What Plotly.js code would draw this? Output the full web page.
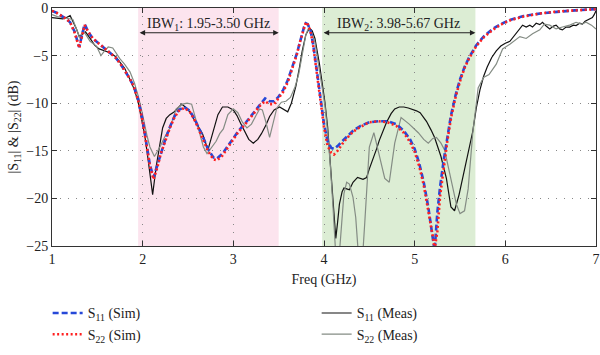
<!DOCTYPE html>
<html>
<head>
<meta charset="utf-8">
<script src="https://cdn.plot.ly/plotly-3.0.1.min.js"></script>
<style>html,body{margin:0;padding:0;background:#fff;}#chart{width:600px;height:355px;}</style>
</head>
<body>
<div id="chart"></div>
<script>
// Simulated S11 / S22 (shared frequency grid, GHz)
const simFreq = [1.00,1.05,1.10,1.15,1.20,1.25,1.30,1.33,1.36,1.40,1.45,1.50,1.55,1.60,1.65,1.70,1.75,1.80,1.85,1.90,1.95,2.00,2.04,2.08,2.12,2.16,2.20,2.25,2.30,2.35,2.40,2.46,2.52,2.58,2.65,2.72,2.78,2.82,2.88,2.96,3.05,3.14,3.22,3.30,3.35,3.40,3.45,3.50,3.55,3.60,3.66,3.70,3.74,3.78,3.80,3.82,3.85,3.88,3.92,3.96,4.00,4.04,4.08,4.11,4.15,4.20,4.25,4.32,4.40,4.50,4.60,4.70,4.80,4.88,4.95,5.00,5.05,5.10,5.15,5.20,5.22,5.25,5.28,5.32,5.36,5.40,5.45,5.50,5.55,5.60,5.68,5.76,5.86,5.95,6.05,6.20,6.40,6.60,6.80,7.00];
const s11Sim = [-0.3,-0.5,-0.8,-1.1,-1.5,-2.5,-4.1,-2.8,-1.7,-2.5,-3.2,-3.6,-4.0,-4.3,-4.7,-5.2,-5.8,-6.5,-7.3,-8.2,-9.6,-11.8,-14.2,-16.5,-17.8,-16.6,-15.2,-13.8,-12.5,-11.4,-10.7,-10.4,-10.8,-11.8,-13.2,-14.8,-15.7,-15.8,-15.3,-14.2,-13.0,-12.0,-11.0,-10.0,-9.5,-9.8,-9.8,-9.3,-8.6,-7.6,-6.0,-4.8,-3.4,-2.0,-1.6,-1.7,-2.3,-3.8,-6.5,-9.5,-12.2,-14.0,-14.7,-14.8,-14.5,-14.0,-13.5,-12.9,-12.4,-12.0,-11.9,-11.9,-12.2,-12.9,-13.8,-14.8,-16.3,-18.3,-20.9,-24.0,-25.5,-21.5,-18.8,-16.0,-13.6,-11.3,-9.2,-7.5,-6.2,-5.2,-3.9,-3.0,-2.2,-1.7,-1.25,-0.85,-0.55,-0.35,-0.22,-0.12];
const s22Sim = [-0.3,-0.5,-0.8,-1.1,-1.5,-2.6,-4.2,-2.9,-1.8,-2.5,-3.2,-3.6,-4.0,-4.3,-4.7,-5.2,-5.8,-6.5,-7.3,-8.2,-9.7,-11.9,-14.3,-16.6,-18.0,-16.8,-15.3,-13.9,-12.6,-11.5,-10.8,-10.5,-10.9,-11.9,-13.4,-15.0,-15.9,-16.0,-15.5,-14.4,-13.1,-12.1,-11.1,-10.2,-9.8,-10.1,-10.1,-9.5,-8.8,-7.8,-6.1,-4.9,-3.4,-2.0,-1.5,-1.7,-2.4,-3.9,-6.6,-9.7,-12.5,-14.5,-15.2,-15.4,-15.0,-14.3,-13.7,-13.0,-12.5,-12.0,-11.9,-12.0,-12.4,-13.1,-14.1,-15.1,-16.6,-18.6,-21.1,-24.0,-25.3,-23.5,-19.8,-16.6,-14.0,-11.6,-9.4,-7.7,-6.3,-5.3,-4.0,-3.1,-2.3,-1.75,-1.3,-0.9,-0.55,-0.35,-0.22,-0.12];

// Measured S11
const s11MeasFreq = [1.00,1.06,1.12,1.16,1.20,1.24,1.27,1.30,1.33,1.37,1.42,1.47,1.52,1.58,1.64,1.70,1.75,1.80,1.86,1.91,1.95,1.99,2.02,2.05,2.08,2.11,2.15,2.19,2.22,2.26,2.30,2.35,2.40,2.43,2.47,2.52,2.56,2.60,2.66,2.72,2.75,2.78,2.83,2.88,2.94,3.00,3.04,3.08,3.12,3.17,3.22,3.27,3.31,3.36,3.40,3.45,3.51,3.56,3.60,3.64,3.69,3.73,3.76,3.80,3.84,3.87,3.90,3.95,3.98,4.01,4.04,4.06,4.08,4.10,4.13,4.15,4.17,4.20,4.22,4.25,4.28,4.32,4.37,4.43,4.47,4.50,4.54,4.58,4.61,4.65,4.69,4.74,4.78,4.83,4.88,4.93,4.97,5.02,5.06,5.13,5.18,5.22,5.29,5.35,5.40,5.44,5.49,5.53,5.57,5.61,5.64,5.68,5.72,5.76,5.80,5.85,5.90,5.95,6.00,6.05,6.10,6.15,6.19,6.23,6.27,6.30,6.34,6.38,6.41,6.45,6.49,6.53,6.56,6.60,6.63,6.67,6.71,6.75,6.78,6.82,6.85,6.88,6.92,6.96,6.98,7.00];
const s11Meas = [-1.0,-1.1,-1.15,-1.0,-0.8,-1.6,-2.2,-3.0,-2.8,-2.5,-3.2,-3.9,-4.3,-4.5,-4.7,-5.1,-5.7,-6.3,-7.5,-8.6,-9.9,-11.6,-13.2,-15.2,-17.3,-19.6,-16.6,-14.3,-12.6,-11.6,-11.2,-10.9,-10.4,-10.1,-10.4,-10.9,-11.6,-12.3,-13.2,-14.9,-13.9,-12.9,-11.2,-10.4,-10.4,-10.7,-11.3,-12.1,-12.9,-13.8,-14.2,-13.8,-13.2,-12.3,-11.4,-10.7,-10.4,-10.7,-10.9,-10.0,-8.2,-6.2,-4.5,-2.8,-2.1,-2.4,-3.2,-5.9,-7.8,-9.9,-12.5,-14.9,-17.5,-19.9,-24.2,-22.5,-20.6,-19.3,-18.9,-19.0,-19.1,-18.3,-17.8,-18.0,-17.8,-16.9,-15.9,-14.8,-13.9,-12.9,-12.0,-11.1,-10.6,-10.4,-10.4,-10.5,-10.6,-10.8,-11.0,-11.9,-12.8,-13.6,-15.6,-17.9,-20.9,-21.3,-19.6,-17.9,-16.3,-14.5,-13.0,-10.5,-8.6,-7.2,-6.2,-5.2,-4.5,-4.0,-3.7,-3.5,-2.9,-2.3,-1.8,-2.0,-1.8,-2.0,-1.6,-1.75,-1.5,-1.9,-2.2,-1.9,-1.8,-2.2,-2.3,-2.0,-2.0,-1.8,-1.85,-1.6,-1.7,-1.4,-1.2,-1.0,-0.7,-0.3];

// Measured S22
const s22MeasFreq = [1.00,1.06,1.12,1.18,1.23,1.27,1.31,1.34,1.38,1.42,1.49,1.54,1.58,1.62,1.67,1.71,1.75,1.80,1.86,1.91,1.95,1.99,2.02,2.05,2.08,2.13,2.19,2.24,2.30,2.34,2.37,2.44,2.49,2.54,2.58,2.63,2.67,2.71,2.76,2.81,2.85,2.89,2.94,3.00,3.05,3.10,3.15,3.20,3.25,3.29,3.32,3.36,3.40,3.44,3.48,3.53,3.58,3.63,3.68,3.72,3.76,3.80,3.83,3.86,3.90,3.95,4.01,4.04,4.07,4.10,4.13,4.16,4.19,4.22,4.25,4.28,4.32,4.35,4.38,4.42,4.45,4.47,4.50,4.55,4.61,4.67,4.72,4.75,4.78,4.85,4.94,5.04,5.10,5.15,5.20,5.24,5.29,5.33,5.40,5.46,5.50,5.55,5.59,5.64,5.68,5.70,5.76,5.82,5.90,5.97,6.05,6.12,6.16,6.23,6.30,6.38,6.43,6.49,6.56,6.63,6.71,6.78,6.84,6.89,6.95,7.00];
const s22Meas = [-0.7,-0.9,-1.0,-1.1,-1.2,-2.2,-3.2,-2.3,-2.9,-3.5,-4.0,-5.0,-4.5,-4.1,-4.2,-4.8,-5.35,-5.9,-6.7,-7.9,-9.2,-10.8,-12.2,-13.5,-14.6,-15.6,-14.6,-13.6,-12.6,-11.5,-10.6,-10.1,-10.0,-10.1,-11.5,-13.2,-14.6,-15.3,-14.6,-14.0,-13.2,-12.7,-11.2,-10.6,-11.0,-12.0,-12.6,-12.2,-11.3,-10.6,-10.7,-12.0,-13.6,-12.0,-10.5,-9.9,-9.8,-9.4,-8.3,-7.0,-4.8,-2.8,-2.1,-2.5,-3.6,-6.5,-10.2,-13.0,-16.5,-21.0,-26.0,-27.0,-23.5,-19.5,-18.3,-18.5,-19.9,-22.0,-26.0,-27.0,-22.5,-19.3,-14.6,-13.1,-15.6,-17.9,-18.3,-16.0,-14.2,-11.5,-12.2,-13.1,-13.8,-14.2,-13.7,-13.6,-14.2,-14.9,-17.9,-20.6,-21.6,-21.3,-19.0,-13.2,-10.0,-8.4,-7.3,-7.0,-5.9,-4.3,-3.8,-3.3,-3.0,-3.2,-2.7,-2.3,-1.7,-1.8,-2.2,-2.0,-1.8,-1.5,-1.7,-1.5,-1.8,-2.2];

// Bands and labels
const ibw1 = [1.95, 3.50];
const ibw2 = [3.98, 5.67];
const ibw1Label = "IBW<sub>1</sub>: 1.95-3.50 GHz";
const ibw2Label = "IBW<sub>2</sub>: 3.98-5.67 GHz";
const arrowLevel = -2.6;
const labelLevel = -1.7;
const xTicks = [1,2,3,4,5,6,7];
const yTicks = [0,-5,-10,-15,-20,-25];

const FONT = "Liberation Serif, Times New Roman, serif";

const traces = [
  {x: s11MeasFreq, y: s11Meas, name: "S<sub>11</sub> (Meas)", mode: "lines", line: {color: "#111111", width: 1.2}, legendrank: 2},
  {x: s22MeasFreq, y: s22Meas, name: "S<sub>22</sub> (Meas)", mode: "lines", line: {color: "#848c84", width: 1.2}, legendrank: 4},
  {x: simFreq, y: s11Sim, name: "S<sub>11</sub> (Sim)", mode: "lines", line: {color: "#2648d8", width: 2.6, dash: "6px,3px"}, legendrank: 1},
  {x: simFreq, y: s22Sim, name: "S<sub>22</sub> (Sim)", mode: "lines", line: {color: "#ff2020", width: 2.6, dash: "2px,2.5px"}, legendrank: 3}
];

const layout = {
  width: 600, height: 355,
  margin: {l: 52, r: 4, t: 8, b: 98},
  paper_bgcolor: "#ffffff", plot_bgcolor: "#ffffff",
  font: {family: FONT, size: 14, color: "#222"},
  showlegend: true,
  legend: {orientation: "h", x: -0.008, xanchor: "left", y: -0.216, yanchor: "top",
           entrywidth: 224, entrywidthmode: "pixels", font: {family: FONT, size: 14, color: "#222"},
           bgcolor: "rgba(0,0,0,0)", traceorder: "normal", itemwidth: 30},
  xaxis: {range: [1, 7], tickvals: xTicks, ticks: "inside", ticklen: 5, tickcolor: "#333",
          showline: true, linecolor: "#333", linewidth: 1, mirror: "ticks",
          showgrid: true, gridcolor: "#888", gridwidth: 1, griddash: "1px,7px", zeroline: false,
          title: {text: "Freq (GHz)", font: {family: FONT, size: 14, color: "#222"}, standoff: 8},
          tickfont: {family: FONT, size: 14, color: "#222"}},
  yaxis: {range: [-25, 0], tickvals: yTicks, ticks: "inside", ticklen: 5, tickcolor: "#333",
          showline: true, linecolor: "#333", linewidth: 1, mirror: "ticks",
          showgrid: true, gridcolor: "#888", gridwidth: 1, griddash: "1px,7px", zeroline: false,
          title: {text: "|S<sub>11</sub>| & |S<sub>22</sub>| (dB)", font: {family: FONT, size: 14, color: "#222"}, standoff: 4},
          tickfont: {family: FONT, size: 14, color: "#222"}},
  shapes: [
    {type: "rect", xref: "x", yref: "paper", x0: ibw1[0], x1: ibw1[1], y0: 0, y1: 1, fillcolor: "#fce4ee", line: {width: 0}, layer: "below"},
    {type: "rect", xref: "x", yref: "paper", x0: ibw2[0], x1: ibw2[1], y0: 0, y1: 1, fillcolor: "#dcedd4", line: {width: 0}, layer: "below"}
  ],
  annotations: [
    {x: ibw1[1], y: arrowLevel, ax: ibw1[0], ay: arrowLevel, xref: "x", yref: "y", axref: "x", ayref: "y", text: "", showarrow: true, arrowside: "end+start", arrowhead: 2, arrowsize: 1, arrowwidth: 1.1, arrowcolor: "#222", standoff: 0, startstandoff: 0},
    {x: ibw2[1], y: arrowLevel, ax: ibw2[0], ay: arrowLevel, xref: "x", yref: "y", axref: "x", ayref: "y", text: "", showarrow: true, arrowside: "end+start", arrowhead: 2, arrowsize: 1, arrowwidth: 1.1, arrowcolor: "#222", standoff: 0, startstandoff: 0},
    {x: (ibw1[0] + ibw1[1]) / 2, y: labelLevel, xref: "x", yref: "y", text: ibw1Label, showarrow: false, font: {family: FONT, size: 14, color: "#222"}},
    {x: (ibw2[0] + ibw2[1]) / 2, y: labelLevel, xref: "x", yref: "y", text: ibw2Label, showarrow: false, font: {family: FONT, size: 14, color: "#222"}}
  ]
};

Plotly.newPlot("chart", traces, layout, {displayModeBar: false, staticPlot: true});
</script>
</body>
</html>
